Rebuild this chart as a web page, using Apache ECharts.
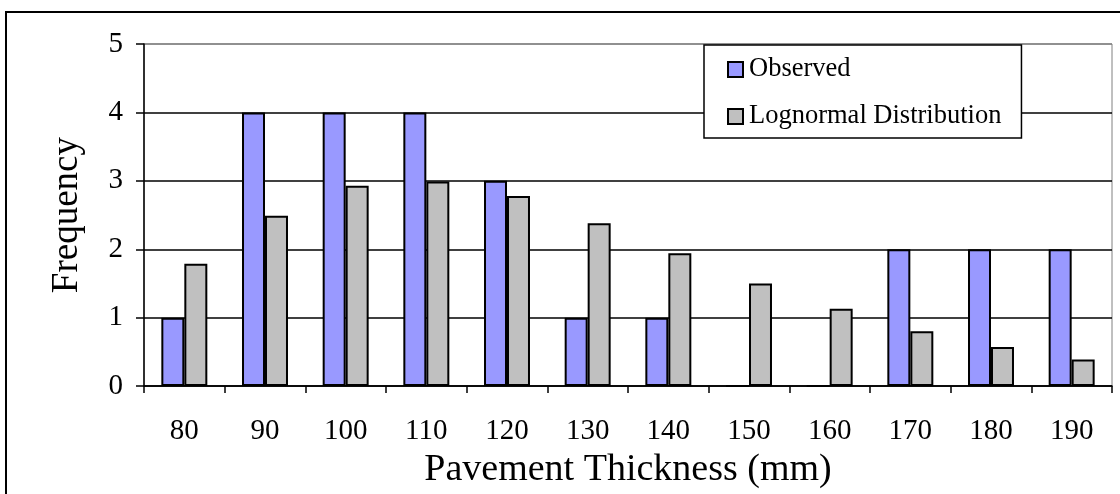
<!DOCTYPE html>
<html>
<head>
<meta charset="utf-8">
<script src="https://cdn.jsdelivr.net/npm/echarts@6/dist/echarts.min.js"></script>
<style>
html,body{margin:0;padding:0;background:#fff;}
#chart{width:1120px;height:494px;}
</style>
</head>
<body>
<div id="chart"></div>
<script>
const categories = ['80','90','100','110','120','130','140','150','160','170','180','190'];
const observed = [1,4,4,4,3,1,1,0,0,2,2,2];
const lognormal = [1.79,2.49,2.93,2.99,2.78,2.38,1.94,1.50,1.13,0.80,0.57,0.39];
const yTicks = [0,1,2,3,4,5];

const FONT = 'Liberation Serif';
const chart = echarts.init(document.getElementById('chart'));
chart.setOption({
  animation: false,
  backgroundColor: '#fff',
  textStyle: {fontFamily: FONT, color: '#000'},
  graphic: [{
    type: 'rect', silent: true, z: -10,
    shape: {x: 6, y: 12, width: 1300, height: 700},
    style: {fill: 'none', stroke: '#000', lineWidth: 2}
  }],
  grid: {left: 144, right: 8, top: 44, bottom: 107, show: true, borderColor: '#808080', borderWidth: 1, backgroundColor: 'transparent'},
  legend: {
    left: 704, top: 45,
    orient: 'vertical',
    padding: [11, 20, 8, 23],
    itemGap: 20,
    itemWidth: 15, itemHeight: 15,
    backgroundColor: '#fff',
    borderColor: '#000', borderWidth: 1.5,
    textStyle: {fontFamily: FONT, fontSize: 26.5, color: '#000', padding: [0,0,0,1]},
    icon: 'rect',
    data: ['Observed', 'Lognormal Distribution']
  },
  xAxis: {
    type: 'category',
    data: categories,
    name: 'Pavement Thickness (mm)',
    nameLocation: 'middle',
    nameGap: 63,
    nameTextStyle: {fontFamily: FONT, fontSize: 38, color: '#000'},
    axisLine: {lineStyle: {color: '#000', width: 1.5}},
    axisTick: {show: true, length: 7, lineStyle: {color: '#000', width: 1.5}},
    axisLabel: {fontFamily: FONT, fontSize: 29, color: '#000', margin: 31}
  },
  yAxis: {
    type: 'value',
    min: yTicks[0], max: yTicks[yTicks.length-1], interval: 1,
    name: 'Frequency',
    nameLocation: 'middle',
    nameGap: 58,
    nameTextStyle: {fontFamily: FONT, fontSize: 37, color: '#000'},
    axisLine: {show: true, lineStyle: {color: '#000', width: 1.5}},
    axisTick: {show: true, length: 8, lineStyle: {color: '#000', width: 1.5}},
    axisLabel: {fontFamily: FONT, fontSize: 29, color: '#000', margin: 21},
    splitLine: {show: true, lineStyle: {color: ['#000','#000','#000','#000','#000','#808080'], width: 1.5}}
  },
  series: [
    {
      name: 'Observed', type: 'bar', data: observed,
      barGap: '0%', barCategoryGap: '43%',
      itemStyle: {color: '#9999FF', borderColor: '#000', borderWidth: 2}
    },
    {
      name: 'Lognormal Distribution', type: 'bar', data: lognormal,
      barGap: '0%', barCategoryGap: '43%',
      itemStyle: {color: '#C0C0C0', borderColor: '#000', borderWidth: 2}
    }
  ]
});
</script>
</body>
</html>
